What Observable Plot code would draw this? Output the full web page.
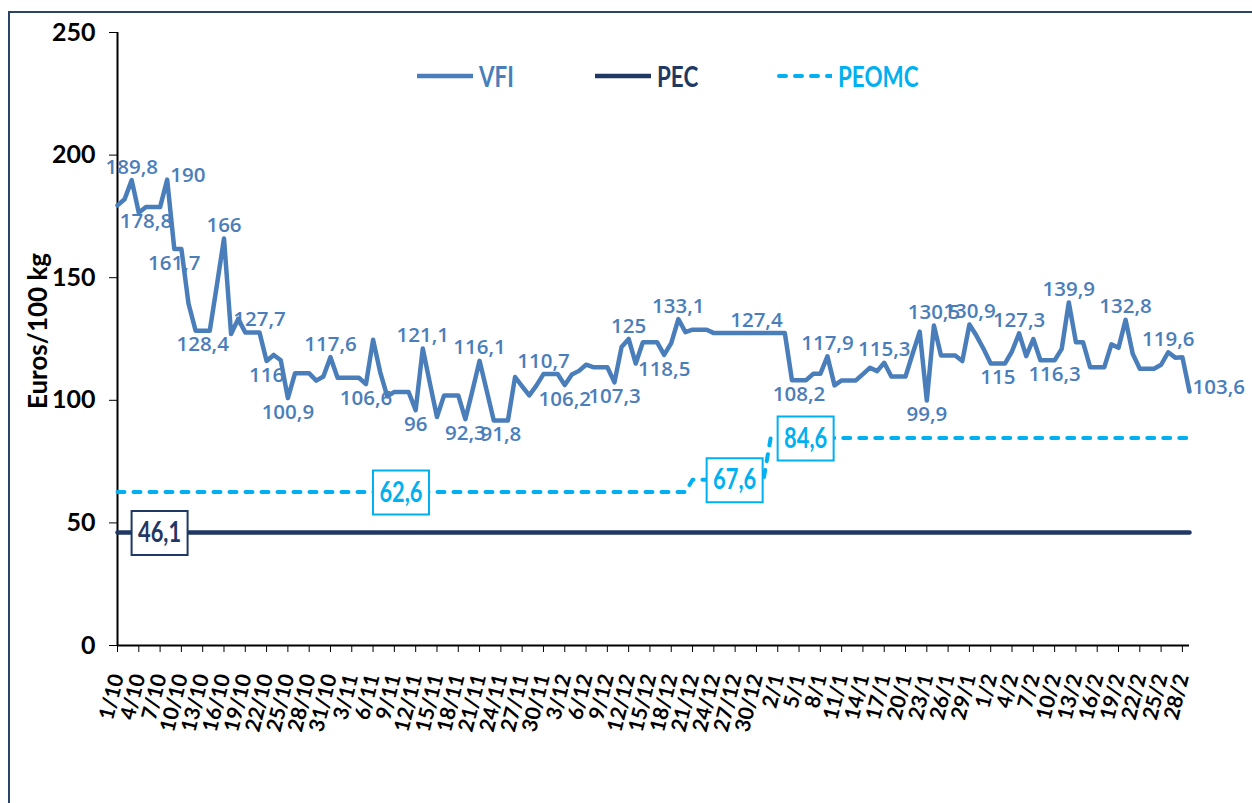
<!DOCTYPE html>
<html><head><meta charset="utf-8">
<script src="https://cdn.jsdelivr.net/npm/d3@7"></script>
<script src="https://cdn.jsdelivr.net/npm/@observablehq/plot@0.6"></script>
<style>
body{margin:0;background:#fff;}
#wrap{position:relative;width:1252px;height:803px;overflow:hidden;background:#fff;}
#chart{position:absolute;left:0;top:0;}
#frame{position:absolute;left:8px;top:11px;width:1300px;height:900px;border:2px solid #2B4466;box-sizing:border-box;pointer-events:none;}
#legend{position:absolute;left:0;top:0;width:1252px;height:100px;pointer-events:none;}
.lg{position:absolute;top:61px;display:flex;align-items:center;font-family:Lato,sans-serif;font-weight:bold;font-size:28px;line-height:30px;white-space:nowrap;}
.lg svg{margin-right:6px;}
.lg span{display:inline-block;transform:scaleX(0.8);transform-origin:0 50%;}
</style></head><body>
<div id="wrap"><div id="chart"></div><div id="legend"></div><div id="frame"></div></div>
<script>
// ---- data ----
const seriesNames = ["VFI", "PEC", "PEOMC"];
const seriesColors = ["#4A7EBB", "#1F3864", "#00B0F0"];

// daily categories 1/10 .. 29/2
const categories = d3.utcDay.range(new Date(Date.UTC(2015, 9, 1)), new Date(Date.UTC(2016, 2, 1))).map(d3.utcFormat("%-d/%-m"));

const tickLabels = ["1/10","4/10","7/10","10/10","13/10","16/10","19/10","22/10","25/10","28/10","31/10",
  "3/11","6/11","9/11","12/11","15/11","18/11","21/11","24/11","27/11","30/11",
  "3/12","6/12","9/12","12/12","15/12","18/12","21/12","24/12","27/12","30/12",
  "2/1","5/1","8/1","11/1","14/1","17/1","20/1","23/1","26/1","29/1",
  "1/2","4/2","7/2","10/2","13/2","16/2","19/2","22/2","25/2","28/2"];
const yTicks = [0, 50, 100, 150, 200, 250];

const vfiValues = [179.5,182,189.8,176.5,178.8,178.8,178.8,190,161.7,161.7,
139.5,128.4,128.4,128.4,147,166,127,133.2,127.7,127.7,
127.7,116,118.5,116.3,100.9,111,111,111,108,109.7,
117.6,109.2,109.2,109.2,109.2,106.6,124.7,111.5,101.6,103.4,
103.4,103.4,96,121.1,107,93.2,102,102,102,92.3,
104,116.1,104,91.8,91.8,91.8,109.5,105.7,102,106,
110.7,110.7,110.7,106.2,110.5,112,114.5,113.5,113.5,113.5,
107.3,121.7,125,115,123.7,123.7,123.7,118.5,123.3,133.1,
127.8,128.8,128.8,128.8,127.4,127.4,127.4,127.4,127.4,127.4,
127.4,127.4,127.4,127.4,127.4,108.2,108.2,108.2,110.8,110.8,
117.9,106.1,108.1,108.1,108.1,110.7,113.3,111.9,115.3,109.7,
109.7,109.7,119,128,99.9,130.5,118.3,118.3,118.3,116,
130.9,126.3,120.9,115,115,115,120,127.3,118,125,
116.3,116.3,116.3,121,139.9,123.7,123.7,113.5,113.5,113.5,
122.8,121.4,132.8,119,112.9,112.9,112.9,114.5,119.6,117.4,
117.6,103.6];

const pecDates = ["1/10", "29/2"];
const pecValues = [46.1, 46.1];
const peomcDates = ["1/10", "20/12", "21/12", "31/12", "1/1", "29/2"];
const peomcValues = [62.6, 62.6, 67.6, 67.6, 84.6, 84.6];

// labelled VFI points
const vfiLabelsAbove = ["3/10","16/10","21/10","31/10","13/11","21/11","30/11","12/12","19/12","30/12","9/1","17/1","24/1","29/1","5/2","12/2","20/2","26/2"];
const vfiLabelsBelow = ["5/10","9/10","13/10","22/10","25/10","5/11","12/11","19/11","24/11","3/12","10/12","17/12","5/1","23/1","2/2","10/2"];
const vfiLabelsRight = ["8/10","29/2"];
const pecLabelDates = ["7/10"];
const peomcLabelDates = ["10/11","27/12","6/1"];

// ---- build ----
const idx = new Map(categories.map((c, i) => [c, i]));
const fmt = v => String(v).replace(".", ",");
const vfi = vfiValues.map((v, i) => ({i, v}));
const pec = pecDates.map((d, k) => ({i: idx.get(d), v: pecValues[k]}));
const peomc = peomcDates.map((d, k) => ({i: idx.get(d), v: peomcValues[k]}));
const stepAt = (pts, i) => { let v = pts[0].v; for (const p of pts) if (p.i <= i) v = p.v; return v; };
const lab = list => list.map(d => vfi[idx.get(d)]);
const pecLab = pecLabelDates.map(d => ({i: idx.get(d), v: stepAt(pec, idx.get(d))}));
const peomcLab = peomcLabelDates.map(d => ({i: idx.get(d), v: stepAt(peomc, idx.get(d))}));

const labelFont = "Lato, 'Open Sans', sans-serif";
const dataFont = "'Open Sans', Lato, sans-serif";

const chart = Plot.plot({
  width: 1252, height: 803,
  marginLeft: 117, marginRight: 63, marginTop: 32, marginBottom: 158,
  x: {type: "linear", domain: [0, categories.length - 1], axis: null},
  y: {domain: [0, 250], axis: null},
  marks: [
    Plot.axisY({ticks: yTicks, tickSize: 8, tickPadding: 14, label: null, fontSize: 25, fontWeight: "bold", fontFamily: labelFont}),
    Plot.axisX({ticks: tickLabels.map(t => idx.get(t)), tickFormat: i => categories[i], tickSize: 7, tickPadding: 22,
      tickRotate: -76, textAnchor: "end", lineAnchor: "middle", label: null, fontSize: 21, fontWeight: "bold", fontFamily: labelFont}),
    Plot.ruleY([0], {stroke: "black", strokeWidth: 2}),
    Plot.ruleX([0], {stroke: "black", strokeWidth: 2}),
    Plot.text(["Euros/100 kg"], {frameAnchor: "left", textAnchor: "middle", dx: -79, dy: -8, rotate: -90, fontSize: 26, fontWeight: "bold", fontFamily: labelFont, fill: "black"}),
    Plot.line(pec, {x: "i", y: "v", stroke: seriesColors[1], strokeWidth: 4.5}),
    Plot.line(peomc, {x: "i", y: "v", stroke: seriesColors[2], strokeWidth: 4, strokeDasharray: "7 9", strokeLinecap: "round"}),
    Plot.line(vfi, {x: "i", y: "v", stroke: seriesColors[0], strokeWidth: 4.5}),
    Plot.text(lab(vfiLabelsAbove), {x: "i", y: "v", text: d => fmt(d.v), dy: -13, fill: seriesColors[0], fontSize: 20.5, fontWeight: 600, fontFamily: dataFont}),
    Plot.text(lab(vfiLabelsBelow), {x: "i", y: "v", text: d => fmt(d.v), dy: 14, fill: seriesColors[0], fontSize: 20.5, fontWeight: 600, fontFamily: dataFont}),
    Plot.text(lab(vfiLabelsRight), {x: "i", y: "v", text: d => fmt(d.v), dx: 3, dy: -4, textAnchor: "start", fill: seriesColors[0], fontSize: 20.5, fontWeight: 600, fontFamily: dataFont}),
    Plot.text(pecLab, {x: "i", y: "v", text: d => fmt(d.v), fill: seriesColors[1], fontSize: 28, fontWeight: "bold", fontFamily: labelFont, className: "box-pec"}),
    Plot.text(peomcLab, {x: "i", y: "v", text: d => fmt(d.v), fill: seriesColors[2], fontSize: 28, fontWeight: "bold", fontFamily: labelFont, className: "box-peomc"})
  ]
});
document.getElementById("chart").append(chart);

// narrow the boxed labels and draw their boxes (positions from Plot's own scales)
const xs = chart.scale("x"), ys = chart.scale("y");
const sx = 0.78, boxW = 56, boxH = 44;
const NS = "http://www.w3.org/2000/svg";
[["box-pec", seriesColors[1], pecLab], ["box-peomc", seriesColors[2], peomcLab]].forEach(([cls, col, data]) => {
  const texts = Array.from(chart.querySelectorAll(`.${cls} text`));
  data.forEach((d, k) => {
    const px = xs.apply(d.i), py = ys.apply(d.v);
    const g = document.createElementNS(NS, "g");
    g.setAttribute("transform", `translate(${px},${py}) scale(${sx},1)`);
    const r = document.createElementNS(NS, "rect");
    r.setAttribute("x", -boxW / 2 / sx); r.setAttribute("y", -boxH / 2 + 1);
    r.setAttribute("width", boxW / sx); r.setAttribute("height", boxH);
    r.setAttribute("fill", "white"); r.setAttribute("stroke", col); r.setAttribute("stroke-width", 2);
    r.setAttribute("vector-effect", "non-scaling-stroke");
    g.append(r);
    const t = texts[k] || document.createElementNS(NS, "text");
    t.removeAttribute("x"); t.removeAttribute("y"); t.removeAttribute("transform");
    t.setAttribute("text-anchor", "middle"); t.setAttribute("dy", "0.36em");
    t.setAttribute("fill", col); t.setAttribute("font-size", 28); t.setAttribute("font-weight", "bold");
    t.setAttribute("font-family", labelFont);
    if (!t.textContent) t.textContent = fmt(d.v);
    g.append(t);
    chart.append(g);
  });
});

// legend
const legendLeft = [417, 595, 776];
const legend = document.getElementById("legend");
seriesNames.forEach((name, k) => {
  const item = document.createElement("div");
  item.className = "lg";
  item.style.left = legendLeft[k] + "px";
  item.style.color = seriesColors[k];
  const dash = k === 2 ? 'stroke-dasharray="7 9" stroke-linecap="round"' : "";
  item.innerHTML = `<svg width="56" height="10"><line x1="${k===2?3:0}" y1="5" x2="56" y2="5" stroke="${seriesColors[k]}" stroke-width="${k===2?4:4.5}" ${dash}/></svg><span>${name}</span>`;
  legend.append(item);
});
</script>
</body></html>
